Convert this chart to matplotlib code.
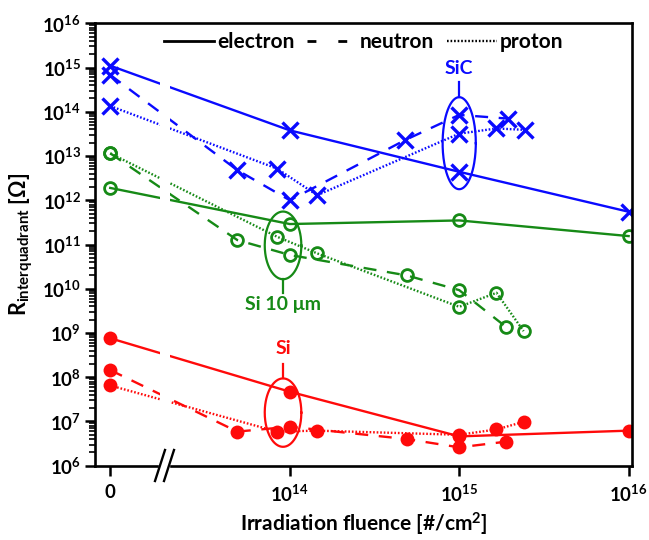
import numpy as np
import matplotlib
matplotlib.use("Agg")
import matplotlib.pyplot as plt
from matplotlib.lines import Line2D
from matplotlib.ticker import FixedLocator, LogLocator, NullFormatter, NullLocator

# ---------------- data ----------------
# SiC (blue)
sic_e_x = [0, 1e14, 1e15, 1e16]
sic_e_y = [1.1e15, 3.8e13, 4.4e12, 5.5e11]
sic_n_x = [0, 4.9e13, 1e14, 4.8e14, 1e15, 1.95e15]
sic_n_y = [6.8e14, 4.8e12, 1.0e12, 2.3e13, 8.5e13, 7.0e13]
sic_p_x = [0, 8.4e13, 1.45e14, 1e15, 1.66e15, 2.45e15]
sic_p_y = [1.35e14, 5.2e12, 1.3e12, 3.2e13, 4.2e13, 3.9e13]

# Si 10 um (green)
si10_e_x = [0, 1e14, 1e15, 1e16]
si10_e_y = [1.9e12, 2.9e11, 3.5e11, 1.55e11]
si10_n_x = [0, 4.9e13, 1e14, 4.9e14, 1e15, 1.9e15]
si10_n_y = [1.15e13, 1.26e11, 5.8e10, 2.0e10, 9.3e9, 1.35e9]
si10_p_x = [0, 8.4e13, 1.45e14, 1e15, 1.66e15, 2.4e15]
si10_p_y = [1.15e13, 1.5e11, 6.3e10, 3.9e9, 8.1e9, 1.1e9]

# Si (red)
si_e_x = [0, 1e14, 1e15, 1e16]
si_e_y = [7.6e8, 4.7e7, 4.6e6, 6.2e6]
si_n_x = [0, 4.9e13, 1e14, 4.9e14, 1e15, 1.9e15]
si_n_y = [1.45e8, 5.9e6, 7.6e6, 4.0e6, 2.6e6, 3.5e6]
si_p_x = [0, 8.4e13, 1.45e14, 1e15, 1.66e15, 2.4e15]
si_p_y = [6.5e7, 5.9e6, 6.2e6, 5.0e6, 6.6e6, 9.8e6]

x_tick_labels = ["0", "$10^{14}$", "$10^{15}$", "$10^{16}$"]
legend_labels = ["electron", "neutron", "proton"]

# ---------------- style ----------------
plt.rcParams["font.family"] = ["Lato", "DejaVu Sans"]
plt.rcParams["font.weight"] = "bold"
plt.rcParams["mathtext.fontset"] = "custom"
plt.rcParams["mathtext.rm"] = "Lato:bold"
plt.rcParams["mathtext.it"] = "Lato:bold"
plt.rcParams["mathtext.bf"] = "Lato:bold"
plt.rcParams["mathtext.default"] = "rm"

BLUE = "#0a0aff"
GREEN = "#168a16"
RED = "#ff0a0a"
ZERO_POS = 10 ** 12.94   # where the "0" fluence is placed on the broken axis

W, H = 649, 540
fig = plt.figure(figsize=(W / 100, H / 100), dpi=100)
L, R, T, B = 95, 632, 23.3, 465.7
ax = fig.add_axes([L / W, 1 - B / H, (R - L) / W, (B - T) / H])
ax.set_xscale("log")
ax.set_yscale("log")
ax.set_xlim(10 ** 12.85, 10 ** 16.02)
ax.set_ylim(1e6, 1e16)


def xpos(xs):
    return [ZERO_POS if v == 0 else v for v in xs]


LW = 1.7
solid = "-"
dashed = (0, (5.5, 4.5))
dotted = (0, (0.7, 0.8))

series = [
    (sic_e_x, sic_e_y, BLUE, solid),
    (sic_n_x, sic_n_y, BLUE, dashed),
    (sic_p_x, sic_p_y, BLUE, dotted),
    (si10_e_x, si10_e_y, GREEN, solid),
    (si10_n_x, si10_n_y, GREEN, dashed),
    (si10_p_x, si10_p_y, GREEN, dotted),
    (si_e_x, si_e_y, RED, solid),
    (si_n_x, si_n_y, RED, dashed),
    (si_p_x, si_p_y, RED, dotted),
]
for xs, ys, c, ls in series:
    ax.plot(xpos(xs), ys, color=c, linestyle=ls, lw=LW, zorder=2)
    if c == BLUE:
        ax.plot(xpos(xs), ys, linestyle="none", marker="x", ms=11.5, mew=2.4,
                color=c, zorder=3)
    elif c == GREEN:
        ax.plot(xpos(xs), ys, linestyle="none", marker="o", ms=8.5, mew=2.0,
                mfc="none", mec=c, zorder=3)
    else:
        ax.plot(xpos(xs), ys, linestyle="none", marker="o", ms=10, mew=0,
                color=c, zorder=3)

# break gap in the data area
ax.axvspan(10 ** 13.233, 10 ** 13.292, color="white", zorder=2.6, lw=0)

# ellipses (drawn in log space)
t = np.linspace(0, 2 * np.pi, 200)


def ellipse(cx, cy, a, b, color):
    ax.plot(10 ** (cx + a * np.cos(t)), 10 ** (cy + b * np.sin(t)),
            color=color, lw=1.6, zorder=4)


ellipse(15.0, 13.29, 0.098, 1.04, BLUE)
ax.plot([1e15, 1e15], [10 ** 14.33, 10 ** 14.68], color=BLUE, lw=1.6, zorder=4)
ax.text(1e15, 10 ** 14.97, "SiC", color=BLUE, ha="center", va="center",
        fontsize=14, fontweight="bold")

ellipse(13.96, 10.98, 0.108, 0.765, GREEN)
ax.plot([10 ** 13.96] * 2, [10 ** 10.215, 10 ** 9.91], color=GREEN, lw=1.6, zorder=4)
ax.text(10 ** 13.96, 10 ** 9.64, "Si 10 μm", color=GREEN, ha="center", va="center",
        fontsize=14, fontweight="bold")

ellipse(13.96, 7.20, 0.108, 0.773, RED)
ax.plot([10 ** 13.96] * 2, [10 ** 7.973, 10 ** 8.31], color=RED, lw=1.6, zorder=4)
ax.text(10 ** 13.96, 10 ** 8.64, "Si", color=RED, ha="center", va="center",
        fontsize=14, fontweight="bold")

# ticks
ax.xaxis.set_major_locator(FixedLocator([ZERO_POS, 1e14, 1e15, 1e16]))
ax.set_xticklabels(x_tick_labels)
ax.xaxis.set_minor_locator(NullLocator())
ax.yaxis.set_minor_locator(LogLocator(base=10, subs=np.arange(2, 10), numticks=200))
ax.yaxis.set_minor_formatter(NullFormatter())
yt = [10.0 ** k for k in range(6, 17)]
ax.set_yticks(yt)
ax.set_yticklabels([f"$10^{{{k}}}$" for k in range(6, 17)])
ax.tick_params(axis="both", which="major", direction="out", length=7, width=1.8,
               labelsize=13.5, pad=3)
ax.tick_params(axis="y", which="minor", direction="out", length=4, width=1.2)
ax.tick_params(axis="x", pad=6)
for s in ax.spines.values():
    s.set_linewidth(1.9)
    s.set_zorder(5)

# break marks on the x axis
fx = lambda px: px / W
fy = lambda py: 1 - py / H
fig.patches.append(plt.Rectangle((fx(159), fy(470)), (169 - 159) / W, 9 / H,
                                 transform=fig.transFigure, color="white", zorder=10))
for x0 in (155, 164):
    fig.lines.append(Line2D([fx(x0), fx(x0 + 10)], [fy(481), fy(450)],
                            transform=fig.transFigure, color="black", lw=1.7, zorder=11))

ax.set_xlabel("Irradiation fluence [#/cm$^{2}$]", fontsize=15, fontweight="bold",
              labelpad=4)
ax.set_ylabel("R$_{\\mathregular{interquadrant}}$ [Ω]", fontsize=15.5,
              fontweight="bold", labelpad=5)

handles = [Line2D([], [], color="black", lw=2.0, linestyle=solid),
           Line2D([], [], color="black", lw=2.0, linestyle=(0, (3.2, 7.9, 3.2, 30))),
           Line2D([], [], color="black", lw=LW, linestyle=dotted)]
leg = ax.legend(handles, legend_labels, loc="center", ncol=3, frameon=False,
                fontsize=15, handlelength=2.4, handletextpad=0.15,
                columnspacing=0.6, bbox_to_anchor=(0.5, 0.958),
                borderpad=0, borderaxespad=0)
for txt in leg.get_texts():
    txt.set_fontweight("bold")

fig.savefig("out.png", dpi=100)
